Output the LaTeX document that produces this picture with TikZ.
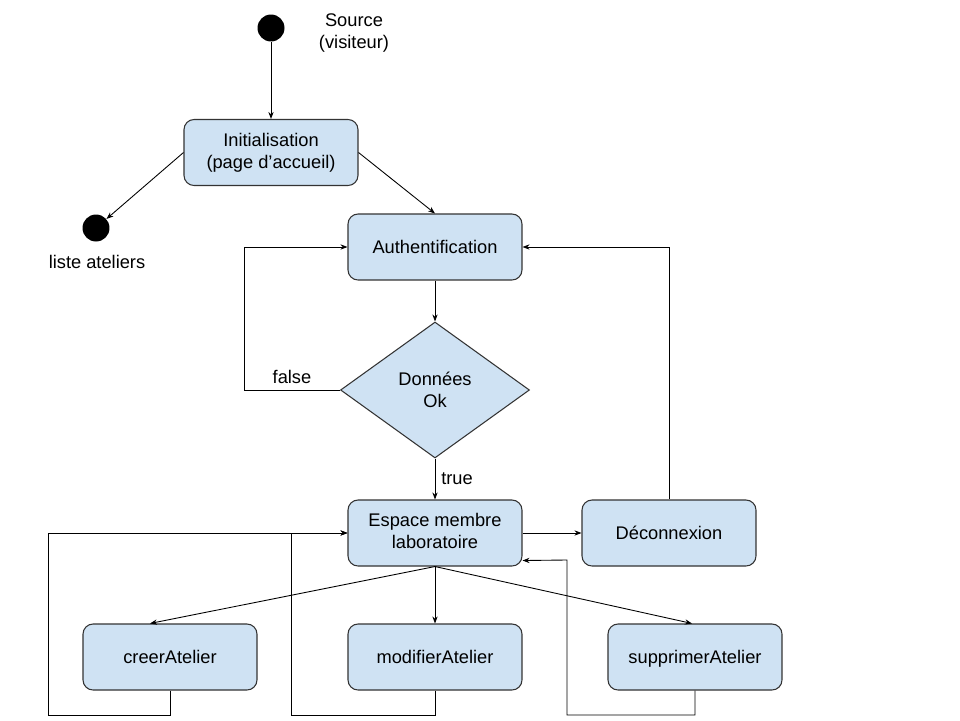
\documentclass[tikz,border=0pt]{standalone}
\usepackage{fontspec}
\setmainfont{Liberation Sans}
\usetikzlibrary{backgrounds,arrows.meta,shapes.geometric}
\definecolor{boxblue}{HTML}{CFE2F3}

\begin{document}
\begin{tikzpicture}
  [
    x = 0.02cm, y = -0.02cm,
    show background rectangle,
    inner frame sep = 0pt,
    background rectangle/.style = {fill=white},
    every node/.style = {font=\fontsize{10.4}{12.5}\selectfont, align=center},
    state box/.style = {draw=black!80, fill=boxblue, line width=0.6pt, rounded corners=0.2cm, minimum width=3.48cm, minimum height=1.32cm,
                        execute at begin node={\rule{0pt}{0.9em}}, execute at end node={\rule[-0.2em]{0pt}{0.2em}}},
    test box/.style = {diamond, draw=black!80, fill=boxblue, line width=0.6pt, aspect=1.4, inner sep=0pt, minimum width=3.78cm, minimum height=2.72cm},
    bullet/.style = {circle, fill=black, inner sep=0pt, minimum size=0.54cm},
    flow/.style = {->, line width=0.5pt},
    > = {Stealth[length=4pt,width=3pt]},
  ]

  \useasboundingbox (0,0) rectangle (960,720);

  \node[bullet] (source) at (271,28) {};
  \node (sourcelbl) at (354,33) {Source\\(visiteur)};
  \node[state box] (init) at (271,152.5) {Initialisation\\(page d’accueil)};
  \node[bullet] (liste) at (96,228) {};
  \node (listelbl) at (97,262) {liste ateliers};
  \node[state box] (auth) at (435,247) {Authentification};
  \node[test box] (ok) at (435,390) {Données\\Ok};
  \node[state box] (espace) at (435,533) {Espace membre\\laboratoire};
  \node[state box] (deco) at (669,533) {Déconnexion};
  \node[state box] (creer) at (170,657) {creerAtelier};
  \node[state box] (modif) at (435,657) {modifierAtelier};
  \node[state box] (suppr) at (695,657) {supprimerAtelier};

  \draw [flow] (source) -- (init);
  \draw [flow] (init.west) -- (liste);
  \draw [flow] (init.east) -- (auth.north);
  \draw [flow] (auth) -- (ok);
  \draw [flow] (ok.west) -- node[above] {false} (244,390) |- (auth.west);
  \draw [flow] (ok) -- node[right] {true} (espace);
  \draw [flow] (espace) -- (deco);
  \draw [flow] (deco.north) |- (auth.east);

  \draw [flow] (espace.south) -- ([xshift=-0.4cm]creer.north);
  \draw [flow] (espace.south) -- (modif.north);
  \draw [flow] (espace.south) -- ([xshift=-0.06cm]suppr.north);

  \draw [flow] (creer.south) -- (170,715) -| (48,533) -- (espace.west);
  \draw [flow] (modif.south) -- (435,715) -| (291,533) -- (espace.west);
  \draw [flow] (suppr.south) -- (695,715) -| (567,560) -- ([yshift=0.12cm]espace.south east);

\end{tikzpicture}
\end{document}
